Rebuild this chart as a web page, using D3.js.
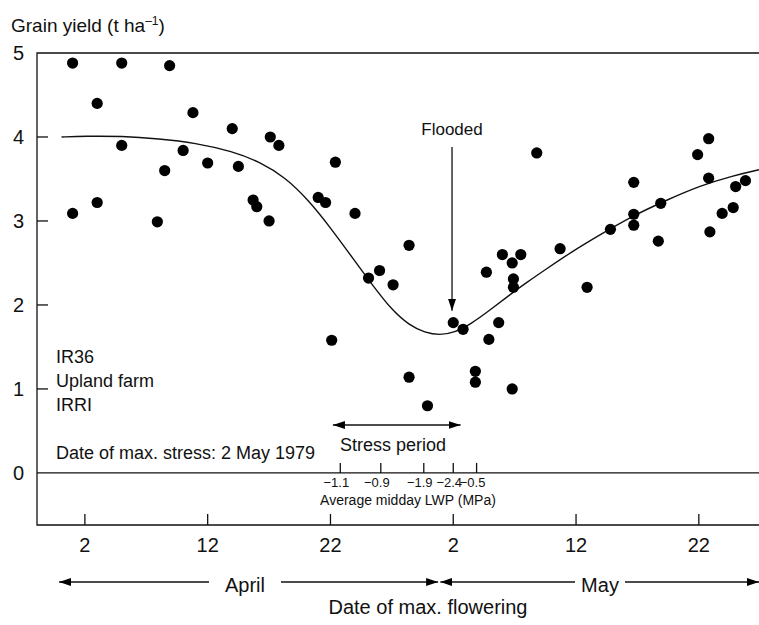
<!DOCTYPE html>
<html>
<head>
<meta charset="utf-8">
<script src="https://cdn.jsdelivr.net/npm/d3@7"></script>
<style>
  body { margin: 0; background: #fff; }
  svg { display: block; font-family: "Liberation Sans", Arial, sans-serif; }
</style>
</head>
<body>
<div id="chart"></div>
<script>
// day numbers: April d -> d, May d -> 30 + d
const pointDays = [1.0, 5.0, 8.9, 3.0, 10.8, 14.0, 5.0, 10.0, 8.5, 12.0, 14.5, 1.0, 3.0, 7.9, 15.7, 16.0, 17.0,
    17.1, 17.8, 22.4, 21.0, 21.6, 24.0, 28.4, 26.0, 25.1, 27.1, 22.1, 32.0, 32.8, 28.4, 29.9, 33.8, 33.8,
    36.8, 34.9, 35.7, 34.7, 36.0, 37.5, 36.8, 36.9, 36.9, 38.8, 40.7, 42.9, 44.8, 46.7, 46.7, 46.7, 48.7,
    48.9, 51.9, 52.8, 52.8, 52.9, 53.9, 54.8, 55.0, 55.8];
const pointYields = [4.88, 4.88, 4.85, 4.40, 4.29, 4.10, 3.90, 3.84, 3.60, 3.69, 3.65, 3.09, 3.22, 2.99, 3.25, 3.17, 3.00,
    4.00, 3.90, 3.70, 3.28, 3.22, 3.09, 2.71, 2.41, 2.32, 2.24, 1.58, 1.79, 1.71, 1.14, 0.80, 1.21, 1.08,
    1.00, 1.59, 1.79, 2.39, 2.60, 2.60, 2.50, 2.31, 2.21, 3.81, 2.67, 2.21, 2.90, 3.46, 3.08, 2.95, 2.76,
    3.21, 3.79, 3.98, 3.51, 2.87, 3.09, 3.16, 3.41, 3.48];

// fitted curve
const curveDays = [0.1, 2, 5, 8, 11, 14, 16.3, 18.3, 20.2, 22.0, 23.8, 25.5, 27.0, 28.4, 29.7, 30.9,
    32.1, 33.4, 35.0, 36.5, 38.0, 39.5, 41.5, 44.0, 46.6, 49.4, 52.1, 54.8, 56.9];
const curveYields = [4.00, 4.01, 4.01, 3.98, 3.93, 3.83, 3.70, 3.52, 3.25, 2.92, 2.56, 2.22, 1.94, 1.76, 1.67, 1.64,
    1.67, 1.77, 1.94, 2.11, 2.27, 2.42, 2.62, 2.84, 3.06, 3.25, 3.42, 3.54, 3.61];

const yTicks = [0, 1, 2, 3, 4, 5];
const dateTicks = [2, 12, 22, 32, 42, 52];
const dateLabels = ["2", "12", "22", "2", "12", "22"];

const lwpDays = [22.8, 26.1, 29.6, 32.0, 33.9];
const lwpLabels = ["\u22121.1", "\u22120.9", "\u22121.9", "\u22122.4", "\u22120.5"];

const stressStart = 22.2, stressEnd = 32.6;
const floodDay = 31.9, floodYield = 1.93;
const aprilStart = -0.1, monthSplit = 30.9, mayEnd = 56.9;
const infoLines = ["IR36", "Upland farm", "IRRI"];

const W = 759, H = 625;
const plotLeft = 37, plotRight = 759, plotTop = 53, plotBottom = 525;

const svg = d3.select("#chart").append("svg")
    .attr("width", W)
    .attr("height", H);

const x = d3.scaleLinear().domain([-1.9, 56.9]).range([plotLeft, plotRight]);
const y = d3.scaleLinear().domain([-0.62, 5]).range([plotBottom, plotTop]);

// arrowheads
const defs = svg.append("defs");
defs.append("marker")
    .attr("id", "head")
    .attr("viewBox", "0 0 12 8")
    .attr("refX", 12).attr("refY", 4)
    .attr("markerWidth", 12).attr("markerHeight", 8)
    .attr("markerUnits", "userSpaceOnUse")
    .attr("orient", "auto-start-reverse")
    .append("path")
    .attr("d", "M0,0L12,4L0,8Z")
    .attr("fill", "#000");

const ink = "#111";

// frame
svg.append("path")
    .attr("d", `M${plotRight},${plotTop}H${plotLeft}V${plotBottom}H${plotRight}`)
    .attr("fill", "none")
    .attr("stroke", ink)
    .attr("stroke-width", 1.3);

// zero line
svg.append("line")
    .attr("x1", plotLeft).attr("x2", plotRight)
    .attr("y1", y(0)).attr("y2", y(0))
    .attr("stroke", ink).attr("stroke-width", 1.3);

// y ticks
svg.selectAll(".ytick")
    .data(yTicks.filter(d => d > 0 && d < 5))
    .join("line")
    .attr("x1", plotLeft).attr("x2", plotLeft + 11)
    .attr("y1", d => y(d)).attr("y2", d => y(d))
    .attr("stroke", ink).attr("stroke-width", 1.3);

svg.selectAll(".ylab")
    .data(yTicks)
    .join("text")
    .attr("x", 24)
    .attr("y", d => y(d))
    .attr("dy", "0.36em")
    .attr("text-anchor", "end")
    .attr("font-size", 20)
    .attr("fill", ink)
    .text(d => d);

// title
const title = svg.append("text")
    .attr("x", 11).attr("y", 32)
    .attr("font-size", 19)
    .attr("fill", ink);
title.append("tspan").text("Grain yield (t ha");
title.append("tspan").attr("dy", -7).attr("font-size", 12).text("\u20131");
title.append("tspan").attr("dy", 7).text(")");

// date ticks
svg.selectAll(".xtick")
    .data(dateTicks)
    .join("line")
    .attr("x1", d => x(d)).attr("x2", d => x(d))
    .attr("y1", plotBottom).attr("y2", plotBottom - 11)
    .attr("stroke", ink).attr("stroke-width", 1.3);

svg.selectAll(".xlab")
    .data(dateTicks)
    .join("text")
    .attr("x", d => x(d))
    .attr("y", 552)
    .attr("text-anchor", "middle")
    .attr("font-size", 20)
    .attr("fill", ink)
    .text((d, i) => dateLabels[i]);

// LWP ticks on zero line
svg.selectAll(".lwptick")
    .data(lwpDays)
    .join("line")
    .attr("x1", d => x(d)).attr("x2", d => x(d))
    .attr("y1", y(0)).attr("y2", y(0) - 10)
    .attr("stroke", ink).attr("stroke-width", 1.3);

svg.selectAll(".lwplab")
    .data(lwpDays)
    .join("text")
    .attr("x", d => x(d) - 4)
    .attr("y", 487)
    .attr("text-anchor", "middle")
    .attr("font-size", 13)
    .attr("fill", ink)
    .text((d, i) => lwpLabels[i]);

svg.append("text")
    .attr("x", 408).attr("y", 505)
    .attr("text-anchor", "middle")
    .attr("font-size", 14)
    .attr("fill", ink)
    .text("Average midday LWP (MPa)");

// fitted curve
const line = d3.line()
    .x(d => x(d[0]))
    .y(d => y(d[1]))
    .curve(d3.curveBasis);

svg.append("path")
    .datum(curveDays.map((d, i) => [d, curveYields[i]]))
    .attr("d", line)
    .attr("fill", "none")
    .attr("stroke", ink)
    .attr("stroke-width", 1.4);

// points
svg.selectAll(".pt")
    .data(pointDays.map((d, i) => [d, pointYields[i]]))
    .join("circle")
    .attr("cx", d => x(d[0]))
    .attr("cy", d => y(d[1]))
    .attr("r", 5.6)
    .attr("fill", "#000");

// flooded annotation
svg.append("line")
    .attr("x1", x(floodDay)).attr("x2", x(floodDay))
    .attr("y1", 147).attr("y2", y(floodYield))
    .attr("stroke", ink).attr("stroke-width", 1.3)
    .attr("marker-end", "url(#head)");

svg.append("text")
    .attr("x", x(floodDay)).attr("y", 135)
    .attr("text-anchor", "middle")
    .attr("font-size", 17)
    .attr("fill", ink)
    .text("Flooded");

// stress period
svg.append("line")
    .attr("x1", x(stressStart)).attr("x2", x(stressEnd))
    .attr("y1", 425).attr("y2", 425)
    .attr("stroke", ink).attr("stroke-width", 1.3)
    .attr("marker-start", "url(#head)")
    .attr("marker-end", "url(#head)");

svg.append("text")
    .attr("x", 393).attr("y", 451)
    .attr("text-anchor", "middle")
    .attr("font-size", 18)
    .attr("fill", ink)
    .text("Stress period");

// info text
svg.selectAll(".info")
    .data(infoLines)
    .join("text")
    .attr("x", 56)
    .attr("y", (d, i) => 363 + i * 24)
    .attr("font-size", 18)
    .attr("fill", ink)
    .text(d => d);

svg.append("text")
    .attr("x", 56).attr("y", 459)
    .attr("font-size", 18)
    .attr("fill", ink)
    .text("Date of max. stress: 2 May 1979");

// month arrows
const arrowY = 582;
function monthArrow(from, to, label, cx, halfGap) {
    svg.append("line")
        .attr("x1", x(from)).attr("x2", cx - halfGap)
        .attr("y1", arrowY).attr("y2", arrowY)
        .attr("stroke", ink).attr("stroke-width", 1.3)
        .attr("marker-start", "url(#head)");
    svg.append("line")
        .attr("x1", cx + halfGap).attr("x2", x(to))
        .attr("y1", arrowY).attr("y2", arrowY)
        .attr("stroke", ink).attr("stroke-width", 1.3)
        .attr("marker-end", "url(#head)");
    svg.append("text")
        .attr("x", cx).attr("y", 592)
        .attr("text-anchor", "middle")
        .attr("font-size", 20)
        .attr("fill", ink)
        .text(label);
}
monthArrow(aprilStart, monthSplit - 0.13, "April", 245, 36);
monthArrow(monthSplit + 0.05, mayEnd, "May", 600, 25);

svg.append("text")
    .attr("x", 428).attr("y", 614)
    .attr("text-anchor", "middle")
    .attr("font-size", 20)
    .attr("fill", ink)
    .text("Date of max. flowering");
</script>
</body>
</html>
